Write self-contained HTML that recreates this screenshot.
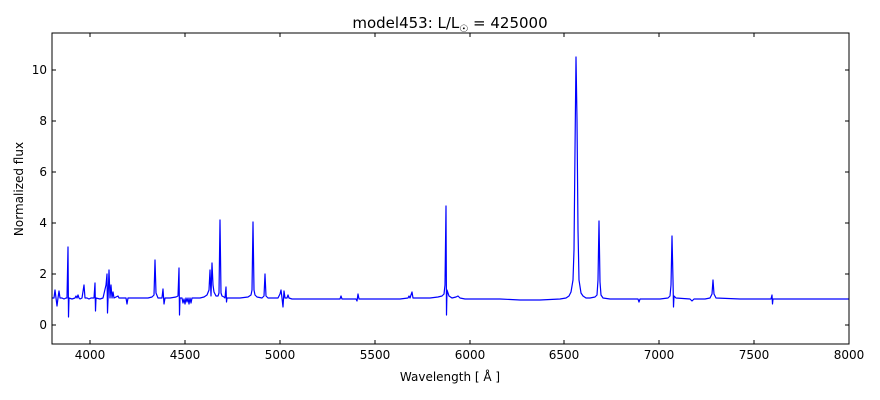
<!DOCTYPE html>
<html><head><style>
body{margin:0;background:#fff;}
svg{display:block;font-family:"DejaVu Sans","Liberation Sans",sans-serif;}
</style></head><body>
<svg width="880" height="400" xmlns="http://www.w3.org/2000/svg">
<rect width="880" height="400" fill="#fff"/>
<text x="450" y="28" font-size="15" text-anchor="middle">model453: L/L<tspan font-size="10" dy="4">☉</tspan><tspan dy="-4"> = 425000</tspan></text>
<g clip-path="url(#c)">
<clipPath id="c"><rect x="52" y="33" width="797" height="311"/></clipPath>
<polyline fill="none" stroke="#0000ff" stroke-width="1.2" stroke-linejoin="round" points="
52,298 54,298 55,290 56,298 57,306 58,298 59,291 60,298 62,298 64,299 66,298 67,298 68,247 68.5,317 69,298 72,299 75,298 76,296 77,298 78,295 79,298 80,299 82,298 84,285 85,298 87,298 89,299 91,298 94,298 95,283 95.5,311 96,298 100,299 103,298 106,285 107,274 107.5,313 108,300 109,270 110,298 111,285 112,298 113,292 114,298 118,296 119,298 126,298 127,304 128,298 140,298 148,298 152,297 154,295 155,260 156,293 158,298 162,298 163,289 164,304 165,298 170,298 176,297 178,296 179,268 179.5,315 180,298 182,298 183,303 184,299 185,304 186,298 187,302 188,298 189,304 190,298 191,303 192,298 200,298 204,297 207,295 209,290 210,270 211,296 212,263 213,285 214,292 216,296 218,296 219,293 220,220 221,293 222,296 224,297 225,298 226,287 226.5,302 227,298 240,298 248,297 251,295 252,290 253,222 254,290 255,295 257,297 262,298 264,296 265,274 266,296 268,298 278,298 280,294 281,290 282,298 283,307 284,291 285,298 287,298 288,295 289,298 292,299 300,299 320,299 340,299 341,296 342,299 356,299 357,301 358,294 359,299 380,299 400,299 408,298 409,296 410,298 412,292 413,298 420,298 430,298 438,297 442,296 444,294 445,285 446,206 446.5,315 447,290 449,296 452,298 456,297 458,296 460,298 465,299 480,299 500,299 520,300 540,300 560,299 566,298 569,296 571,292 573,280 574,250 575,150 576,57 577,120 578,230 579,280 581,293 583,296 586,298 590,298 595,297 597,295 598,280 599,221 600,282 601,295 603,298 610,299 620,299 638,299 639,302 640,299 660,299 668,298 670,296 671,285 672,236 673,280 673.5,307 674,296 676,298 690,299 692,301 694,299 705,299 710,298 712,294 713,280 714,294 716,298 740,299 760,299 771,299 772,295 772.5,304 773,299 800,299 820,299 849,299"/>
</g>
<rect x="52" y="33" width="797" height="311" fill="none" stroke="#000" stroke-width="1"/>
<g stroke="#000" stroke-width="1">
<line x1="90" y1="344" x2="90" y2="340"/><line x1="90" y1="33" x2="90" y2="37"/>
<line x1="185" y1="344" x2="185" y2="340"/><line x1="185" y1="33" x2="185" y2="37"/>
<line x1="280" y1="344" x2="280" y2="340"/><line x1="280" y1="33" x2="280" y2="37"/>
<line x1="375" y1="344" x2="375" y2="340"/><line x1="375" y1="33" x2="375" y2="37"/>
<line x1="470" y1="344" x2="470" y2="340"/><line x1="470" y1="33" x2="470" y2="37"/>
<line x1="564" y1="344" x2="564" y2="340"/><line x1="564" y1="33" x2="564" y2="37"/>
<line x1="659" y1="344" x2="659" y2="340"/><line x1="659" y1="33" x2="659" y2="37"/>
<line x1="754" y1="344" x2="754" y2="340"/><line x1="754" y1="33" x2="754" y2="37"/>
<line x1="52" y1="325" x2="56" y2="325"/><line x1="849" y1="325" x2="845" y2="325"/>
<line x1="52" y1="274" x2="56" y2="274"/><line x1="849" y1="274" x2="845" y2="274"/>
<line x1="52" y1="223" x2="56" y2="223"/><line x1="849" y1="223" x2="845" y2="223"/>
<line x1="52" y1="172" x2="56" y2="172"/><line x1="849" y1="172" x2="845" y2="172"/>
<line x1="52" y1="121" x2="56" y2="121"/><line x1="849" y1="121" x2="845" y2="121"/>
<line x1="52" y1="70" x2="56" y2="70"/><line x1="849" y1="70" x2="845" y2="70"/>
</g>
<g font-size="12" text-anchor="middle">
<text x="90" y="359">4000</text><text x="185" y="359">4500</text><text x="280" y="359">5000</text><text x="375" y="359">5500</text>
<text x="470" y="359">6000</text><text x="564" y="359">6500</text><text x="659" y="359">7000</text><text x="754" y="359">7500</text><text x="849" y="359">8000</text>
</g>
<g font-size="12" text-anchor="end">
<text x="47" y="329">0</text><text x="47" y="278">2</text><text x="47" y="227">4</text><text x="47" y="176">6</text><text x="47" y="125">8</text><text x="47" y="74">10</text>
</g>
<text x="450" y="381" font-size="12" text-anchor="middle">Wavelength [ Å ]</text>
<text x="23" y="189" font-size="12" text-anchor="middle" transform="rotate(-90 23 189)">Normalized flux</text>
</svg>
</body></html>
